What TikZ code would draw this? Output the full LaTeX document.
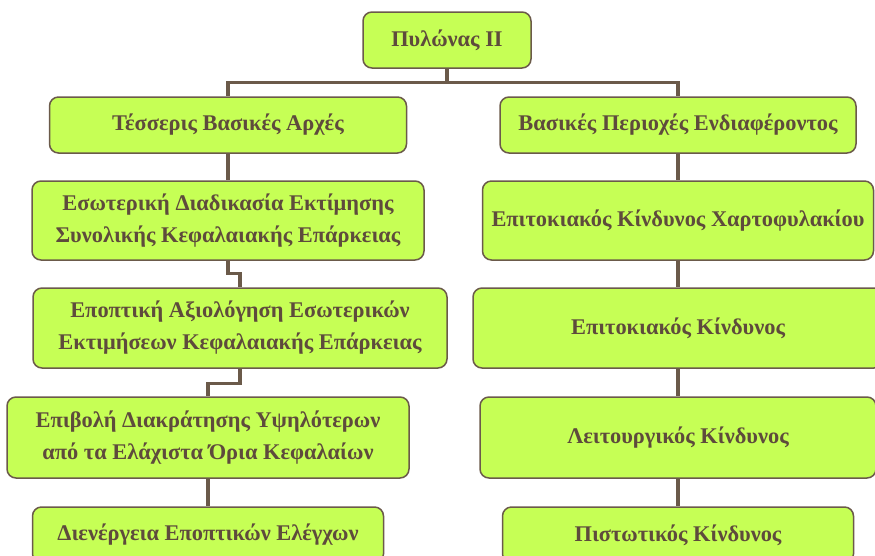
\documentclass[tikz,border=0pt]{standalone}
\usepackage{fontspec}
\setmainfont{Liberation Serif}
\definecolor{boxfill}{HTML}{C6FF55}
\definecolor{boxline}{HTML}{6B5A4A}
\definecolor{txt}{HTML}{5E4B3C}
\begin{document}
\begin{tikzpicture}[x=1pt,y=1pt,
  box/.style={draw=boxline,line width=1.5pt,fill=boxfill,rounded corners=9pt,
    text=txt,font=\fontsize{22.4}{32}\selectfont\bfseries,align=center,inner sep=0pt},
  link/.style={draw=boxline,line width=3.4pt}]
\useasboundingbox (0,0) rectangle (875,-555);
\begin{scope}
\clip (0,0) rectangle (875,-555);
% top
\node[box,minimum width=168,minimum height=56] (top) at (447,-40) {Πυλώνας ΙΙ};
% left column
\node[box,minimum width=357,minimum height=56] (l1) at (228,-125) {Τέσσερις Βασικές Αρχές};
\node[box,minimum width=392,minimum height=79] (l2) at (228,-220.5) {Εσωτερική Διαδικασία Εκτίμησης\\Συνολικής Κεφαλαιακής Επάρκειας};
\node[box,minimum width=414,minimum height=80] (l3) at (240,-328) {Εποπτική Αξιολόγηση Εσωτερικών\\Εκτιμήσεων Κεφαλαιακής Επάρκειας};
\node[box,minimum width=402,minimum height=81] (l4) at (208,-437.5) {Επιβολή Διακράτησης Υψηλότερων\\από τα Ελάχιστα Όρια Κεφαλαίων};
\node[box,minimum width=351,minimum height=56] (l5) at (208,-535) {Διενέργεια Εποπτικών Ελέγχων};
% right column
\node[box,minimum width=356,minimum height=56] (r1) at (678,-125) {Βασικές Περιοχές Ενδιαφέροντος};
\node[box,minimum width=391,minimum height=79] (r2) at (678,-220.5) {Επιτοκιακός Κίνδυνος Χαρτοφυλακίου};
\node[box,minimum width=410,minimum height=80] (r3) at (678,-328) {Επιτοκιακός Κίνδυνος};
\node[box,minimum width=396,minimum height=81] (r4) at (678,-437.5) {Λειτουργικός Κίνδυνος};
\node[box,minimum width=351,minimum height=56] (r5) at (678,-535) {Πιστωτικός Κίνδυνος};
% connectors
\draw[link] (top.south) -- ++(0,-14) -| (l1.north);
\draw[link] (top.south) -- ++(0,-14) -| (r1.north);
\draw[link] (l1.south) -- (l2.north);
\draw[link] (l2.south) -- ++(0,-13) -| (l3.north);
\draw[link] (l3.south) -- ++(0,-15) -| (l4.north);
\draw[link] (l4.south) -- (l5.north);
\draw[link] (r1.south) -- (r2.north);
\draw[link] (r2.south) -- (r3.north);
\draw[link] (r3.south) -- (r4.north);
\draw[link] (r4.south) -- (r5.north);
\end{scope}
\end{tikzpicture}
\end{document}
